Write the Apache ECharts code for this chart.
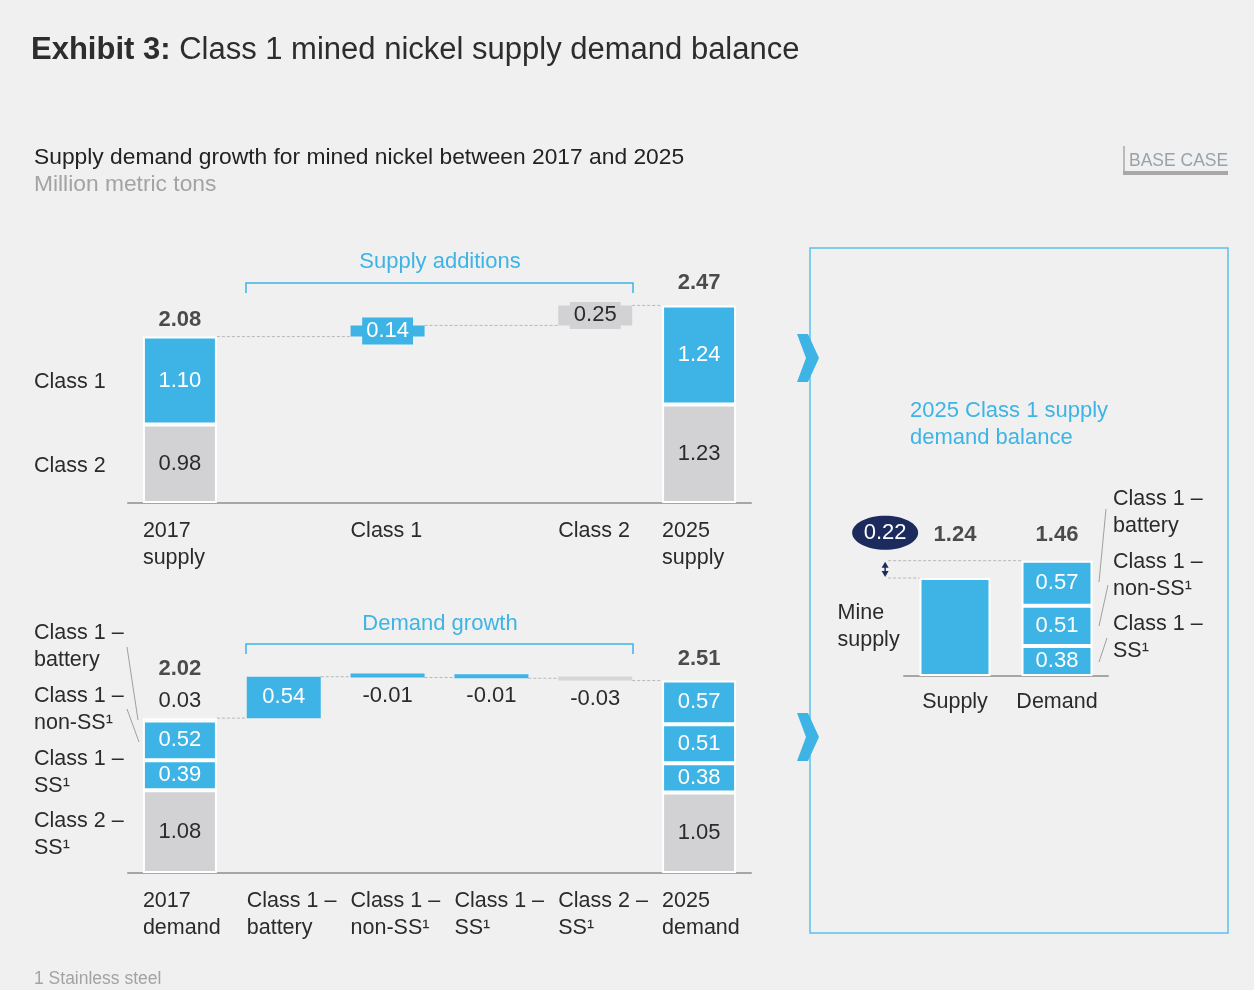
<!DOCTYPE html>
<html>
<head>
<meta charset="utf-8">
<script src="https://cdn.jsdelivr.net/npm/echarts@6/dist/echarts.min.js"></script>
<style>
html,body{margin:0;padding:0;background:#f0f0f0;}
#c{width:1254px;height:990px;}
</style>
</head>
<body>
<div id="c"></div>
<script>
// ---------- DATA ----------
const supplyCategories = ['2017\nsupply', '', 'Class 1', '', 'Class 2', '2025\nsupply'];
const supplyClass2 = [0.98, null, null, null, null, 1.23];
const supplyClass1 = [1.10, null, null, null, null, 1.24];
const supplyAdditions = [null, null, 0.14, null, 0.25, null];

const demandCategories = ['2017\ndemand', 'Class 1 –\nbattery', 'Class 1 –\nnon-SS¹', 'Class 1 –\nSS¹', 'Class 2 –\nSS¹', '2025\ndemand'];
const demandClass2SS = [1.08, null, null, null, null, 1.05];
const demandClass1SS = [0.39, null, null, null, null, 0.38];
const demandClass1NonSS = [0.52, null, null, null, null, 0.51];
const demandClass1Battery = [0.03, null, null, null, null, 0.57];
const demandChanges = [null, 0.54, -0.01, -0.01, -0.03, null];

const balanceCategories = ['Supply', 'Demand'];
const balanceSupply = [1.24, null];
const balanceClass1SS = [null, 0.38];
const balanceClass1NonSS = [null, 0.51];
const balanceClass1Battery = [null, 0.57];

// ---------- STYLE ----------
const BLUE = '#3db4e5', GREY = '#d2d2d4', DARK = '#2b2b2b', NAVY = '#1c2a5e', LIGHT = '#a3a3a3';
const FONT = '"Liberation Sans", Arial, sans-serif';
const fmt = v => (Math.round(v * 100) / 100).toFixed(2);
const r2 = v => Math.round(v * 100) / 100;

// ---------- DERIVED (waterfall) ----------
const supplyTotals = supplyCategories.map((c, i) => supplyClass1[i] != null ? r2(supplyClass1[i] + supplyClass2[i]) : null);
const supplyBase = supplyCategories.map(() => null);
const supplyConn = [];
(function () {
  let run = supplyTotals[0], prev = 0;
  supplyAdditions.forEach((a, i) => {
    if (a == null) return;
    supplyBase[i] = run; supplyConn.push([prev, i, run]);
    run = r2(run + a); prev = i;
  });
  supplyConn.push([prev, supplyCategories.length - 1, run]);
})();

const demandTotals = demandCategories.map((c, i) => demandClass2SS[i] != null ?
  r2(demandClass2SS[i] + demandClass1SS[i] + demandClass1NonSS[i] + demandClass1Battery[i]) : null);
const demandBase = demandCategories.map(() => null);
const demandDelta = demandCategories.map(() => null);
const demandConn = [];
(function () {
  let run = demandTotals[0], prev = 0;
  demandChanges.forEach((ch, i) => {
    if (ch == null) return;
    demandBase[i] = r2(Math.min(run, run + ch));
    demandDelta[i] = Math.abs(ch);
    demandConn.push([prev, i, run]);
    run = r2(run + ch); prev = i;
  });
  demandConn.push([prev, demandCategories.length - 1, run]);
})();

const balSupplyTotal = balanceSupply[0];
const balDemandTotal = r2(balanceClass1SS[1] + balanceClass1NonSS[1] + balanceClass1Battery[1]);
const balTotals = [balSupplyTotal, balDemandTotal];
const balLevel = Math.max(balSupplyTotal, balDemandTotal);

// ---------- HELPERS ----------
function catLabel(fs) {
  return {
    interval: 0, margin: 15,
    formatter: v => v ? v.split('\n').map(l => '{a|' + l + '}').join('\n') : '',
    rich: { a: { width: 74, align: 'left', fontSize: fs, lineHeight: 27, color: DARK, fontFamily: FONT } }
  };
}
function connector(xi, yi, data) {
  return {
    type: 'custom', xAxisIndex: xi, yAxisIndex: yi, z: 1, silent: true,
    data: data, encode: { x: [0, 1], y: 2 },
    renderItem: function (params, api) {
      const y = api.value(2);
      const p0 = api.coord([api.value(0), y]), p1 = api.coord([api.value(1), y]);
      const half = api.size([1, 0])[0] * 0.712 / 2;
      return { type: 'line', shape: { x1: p0[0] + half, y1: p0[1], x2: p1[0] - half, y2: p1[1] },
        style: { stroke: '#b8b8b8', lineWidth: 1, lineDash: [3, 2] } };
    }
  };
}
const segBorder = { borderColor: '#ffffff', borderWidth: 2 };
function valLabel(color) {
  return { show: true, position: 'inside', color: color, fontSize: 22, fontFamily: FONT, formatter: p => fmt(p.value) };
}
function totalItems(arr, dists) {
  return arr.map((v, i) => v == null ? null : {
    value: v, label: { distance: dists[i] }
  });
}

const textEl = (x, y, text, size, color, extra) => ({
  type: 'text', x: x, y: y, silent: true,
  style: Object.assign({ text: text, fill: color, font: size + 'px ' + FONT, lineHeight: 27,
    align: 'left', verticalAlign: 'top', textAlign: 'left', textVerticalAlign: 'top' }, extra || {})
});
const lineEl = (x1, y1, x2, y2, color, w) => ({
  type: 'line', silent: true, shape: { x1, y1, x2, y2 }, style: { stroke: color, lineWidth: w }
});

// ---------- OPTION ----------
const option = {
  backgroundColor: '#f0f0f0',
  animation: false,
  textStyle: { fontFamily: FONT },
  title: {
    left: 31, top: 35, padding: 0,
    text: '{b|Exhibit 3:}{n| Class 1 mined nickel supply demand balance}',
    textStyle: { fontWeight: 'normal', rich: {
      b: { fontSize: 31, fontWeight: 'bold', color: '#2d2d2d', fontFamily: FONT },
      n: { fontSize: 31, fontWeight: 'normal', color: '#2d2d2d', fontFamily: FONT }
    } }
  },
  grid: [
    { left: 128, top: 263, width: 623, height: 240 },
    { left: 128, top: 643, width: 623, height: 230 },
    { left: 904, top: 518, width: 204, height: 158 }
  ],
  xAxis: [
    { type: 'category', gridIndex: 0, data: supplyCategories, axisTick: { show: false },
      axisLine: { lineStyle: { color: '#a6a6a6', width: 2 } }, axisLabel: catLabel(21.5) },
    { type: 'category', gridIndex: 1, data: demandCategories, axisTick: { show: false },
      axisLine: { lineStyle: { color: '#a6a6a6', width: 2 } }, axisLabel: catLabel(21.5) },
    { type: 'category', gridIndex: 2, data: balanceCategories, axisTick: { show: false },
      axisLine: { lineStyle: { color: '#a6a6a6', width: 2 } },
      axisLabel: { interval: 0, margin: 15, fontSize: 21.5, color: DARK, fontFamily: FONT } }
  ],
  yAxis: [
    { type: 'value', gridIndex: 0, min: 0, max: 3, show: false },
    { type: 'value', gridIndex: 1, min: 0, max: 3, show: false },
    { type: 'value', gridIndex: 2, min: 0, max: 2, show: false }
  ],
  series: [
    // ---- supply waterfall ----
    connector(0, 0, supplyConn),
    { type: 'bar', xAxisIndex: 0, yAxisIndex: 0, stack: 'sup', barWidth: 74, data: supplyBase,
      itemStyle: { color: 'transparent' }, silent: true },
    { type: 'bar', xAxisIndex: 0, yAxisIndex: 0, stack: 'sup', barWidth: 74, data: supplyClass2,
      itemStyle: Object.assign({ color: GREY }, segBorder), label: valLabel(DARK) },
    { type: 'bar', xAxisIndex: 0, yAxisIndex: 0, stack: 'sup', barWidth: 74, data: supplyClass1,
      itemStyle: Object.assign({ color: BLUE }, segBorder), label: valLabel('#fff') },
    { type: 'bar', xAxisIndex: 0, yAxisIndex: 0, stack: 'sup', barWidth: 74,
      data: supplyAdditions.map((v, i) => v == null ? null : {
        value: v,
        itemStyle: { color: supplyCategories[i].indexOf('Class 2') === 0 ? GREY : BLUE },
        label: supplyCategories[i].indexOf('Class 2') === 0 ?
          { color: DARK, backgroundColor: GREY } : { color: '#fff', backgroundColor: BLUE }
      }),
      label: { show: true, position: 'inside', fontSize: 22, fontFamily: FONT, padding: [3, 4, 2, 4],
        formatter: p => fmt(p.value) } },
    { type: 'scatter', xAxisIndex: 0, yAxisIndex: 0, symbolSize: 0, z: 5,
      data: totalItems(supplyTotals, [6, 0, 0, 0, 0, 11]),
      label: { show: true, position: 'top', fontSize: 22, fontWeight: 'bold', color: '#222', fontFamily: FONT,
        formatter: p => fmt(p.value) } },

    // ---- demand waterfall ----
    connector(1, 1, demandConn),
    { type: 'bar', xAxisIndex: 1, yAxisIndex: 1, stack: 'dem', barWidth: 74, data: demandBase,
      itemStyle: { color: 'transparent' }, silent: true },
    { type: 'bar', xAxisIndex: 1, yAxisIndex: 1, stack: 'dem', barWidth: 74, data: demandClass2SS,
      itemStyle: Object.assign({ color: GREY }, segBorder), label: valLabel(DARK) },
    { type: 'bar', xAxisIndex: 1, yAxisIndex: 1, stack: 'dem', barWidth: 74, data: demandClass1SS,
      itemStyle: Object.assign({ color: BLUE }, segBorder), label: valLabel('#fff') },
    { type: 'bar', xAxisIndex: 1, yAxisIndex: 1, stack: 'dem', barWidth: 74, data: demandClass1NonSS,
      itemStyle: Object.assign({ color: BLUE }, segBorder), label: valLabel('#fff') },
    { type: 'bar', xAxisIndex: 1, yAxisIndex: 1, stack: 'dem', barWidth: 74,
      data: demandClass1Battery.map((v, i) => v == null ? null : {
        value: v,
        label: v < 0.1 ? { position: 'top', color: DARK, distance: 6 } : {}
      }),
      itemStyle: Object.assign({ color: BLUE }, segBorder), label: valLabel('#fff') },
    { type: 'bar', xAxisIndex: 1, yAxisIndex: 1, stack: 'dem', barWidth: 74, barMinHeight: 4,
      data: demandDelta.map((v, i) => v == null ? null : {
        value: v,
        itemStyle: { color: demandCategories[i].indexOf('Class 2') === 0 ? '#d6d6d8' : BLUE },
        label: demandChanges[i] > 0 ? { position: 'inside', color: '#fff' } :
          { position: 'bottom', color: DARK, distance: 7 }
      }),
      label: { show: true, fontSize: 22, fontFamily: FONT, formatter: p => fmt(demandChanges[p.dataIndex]) } },
    { type: 'scatter', xAxisIndex: 1, yAxisIndex: 1, symbolSize: 0, z: 5,
      data: totalItems(demandTotals, [38, 0, 0, 0, 0, 11]),
      label: { show: true, position: 'top', fontSize: 22, fontWeight: 'bold', color: '#222', fontFamily: FONT,
        formatter: p => fmt(p.value) } },

    // ---- 2025 balance ----
    { type: 'bar', xAxisIndex: 2, yAxisIndex: 2, stack: 'bal', barWidth: 71, data: balanceSupply,
      itemStyle: Object.assign({ color: BLUE }, segBorder),
      label: { show: true, position: 'left', distance: 16, formatter: '{a|Mine}\n{a|supply}',
        rich: { a: { width: 66, align: 'left', fontSize: 21.5, lineHeight: 27, color: DARK, fontFamily: FONT } } } },
    { type: 'bar', xAxisIndex: 2, yAxisIndex: 2, stack: 'bal', barWidth: 71, data: balanceClass1SS,
      itemStyle: Object.assign({ color: BLUE }, segBorder), label: valLabel('#fff') },
    { type: 'bar', xAxisIndex: 2, yAxisIndex: 2, stack: 'bal', barWidth: 71, data: balanceClass1NonSS,
      itemStyle: Object.assign({ color: BLUE }, segBorder), label: valLabel('#fff') },
    { type: 'bar', xAxisIndex: 2, yAxisIndex: 2, stack: 'bal', barWidth: 71, data: balanceClass1Battery,
      itemStyle: Object.assign({ color: BLUE }, segBorder), label: valLabel('#fff') },
    { type: 'scatter', xAxisIndex: 2, yAxisIndex: 2, symbolSize: 0, z: 5,
      data: balTotals.map(() => balLevel),
      label: { show: true, position: 'top', distance: 15, fontSize: 22, fontWeight: 'bold', color: '#222', fontFamily: FONT,
        formatter: p => fmt(balTotals[p.dataIndex]) } },
    { type: 'custom', xAxisIndex: 2, yAxisIndex: 2, z: 6, silent: true,
      data: [[0, balSupplyTotal, balDemandTotal]], encode: { x: 0, y: [1, 2] },
      renderItem: function (params, api) {
        const s = api.value(1), d = api.value(2);
        const slot = api.size([1, 0])[0];
        const pS = api.coord([0, s]), pD = api.coord([1, d]);
        const half = slot * 0.696 / 2;
        const ax = pS[0] - slot * 0.685;
        const yS = pS[1], yD = pD[1];
        const dash = { stroke: '#b8b8b8', lineWidth: 1, lineDash: [3, 2] };
        return { type: 'group', children: [
          { type: 'line', shape: { x1: ax + 3, y1: yS, x2: pS[0] - half, y2: yS }, style: dash },
          { type: 'line', shape: { x1: ax + 3, y1: yD, x2: pD[0] - half, y2: yD }, style: dash },
          { type: 'line', shape: { x1: ax, y1: yD + 4, x2: ax, y2: yS - 4 }, style: { stroke: NAVY, lineWidth: 1.5 } },
          { type: 'polygon', shape: { points: [[ax - 3.5, yD + 7], [ax + 3.5, yD + 7], [ax, yD + 1]] }, style: { fill: NAVY } },
          { type: 'polygon', shape: { points: [[ax - 3.5, yS - 7], [ax + 3.5, yS - 7], [ax, yS - 1]] }, style: { fill: NAVY } },
          { type: 'ellipse', shape: { cx: ax, cy: yD - 28, rx: 33, ry: 17 }, style: { fill: NAVY } },
          { type: 'text', style: { x: ax, y: yD - 28, text: fmt(d - s), fill: '#ffffff', font: '22px ' + FONT,
            align: 'center', verticalAlign: 'middle', textAlign: 'center', textVerticalAlign: 'middle' } }
        ] };
      } }
  ],
  graphic: [
    textEl(34, 144, 'Supply demand growth for mined nickel between 2017 and 2025', 22.8, '#222'),
    textEl(34, 171, 'Million metric tons', 22.8, LIGHT),
    textEl(1129, 148, 'BASE CASE', 17.5, '#98a2ad'),
    lineEl(1124, 146, 1124, 173, '#a8a8a8', 1.5),
    lineEl(1123, 173, 1228, 173, '#a8a8a8', 4),

    textEl(440, 248, 'Supply additions', 22, BLUE, { align: 'center', textAlign: 'center' }),
    { type: 'polyline', silent: true, shape: { points: [[246, 293], [246, 283], [633, 283], [633, 293]] },
      style: { stroke: BLUE, lineWidth: 1.5, fill: null } },
    textEl(440, 610, 'Demand growth', 22, BLUE, { align: 'center', textAlign: 'center' }),
    { type: 'polyline', silent: true, shape: { points: [[246, 654], [246, 644], [633, 644], [633, 654]] },
      style: { stroke: BLUE, lineWidth: 1.5, fill: null } },

    textEl(34, 369, 'Class 1', 21.5, DARK),
    textEl(34, 453, 'Class 2', 21.5, DARK),

    textEl(34, 620, 'Class 1 –\nbattery', 21.5, DARK),
    textEl(34, 683, 'Class 1 –\nnon-SS¹', 21.5, DARK),
    textEl(34, 746, 'Class 1 –\nSS¹', 21.5, DARK),
    textEl(34, 808, 'Class 2 –\nSS¹', 21.5, DARK),
    lineEl(127, 647, 138, 720, '#a0a0a0', 1),
    lineEl(127, 709, 139, 742, '#a0a0a0', 1),

    { type: 'rect', silent: true, shape: { x: 810, y: 248, width: 418, height: 685 },
      style: { stroke: '#5bc0ea', lineWidth: 1.5, fill: null } },
    { type: 'polygon', silent: true, shape: { points: [[797, 334], [808, 334], [819, 358], [808, 382], [797, 382], [806, 358]] },
      style: { fill: BLUE } },
    { type: 'polygon', silent: true, shape: { points: [[797, 713], [808, 713], [819, 737], [808, 761], [797, 761], [806, 737]] },
      style: { fill: BLUE } },
    textEl(910, 397, '2025 Class 1 supply\ndemand balance', 22, BLUE),

    textEl(1113, 486, 'Class 1 –\nbattery', 21.5, DARK),
    textEl(1113, 549, 'Class 1 –\nnon-SS¹', 21.5, DARK),
    textEl(1113, 611, 'Class 1 –\nSS¹', 21.5, DARK),
    lineEl(1106, 509, 1099, 582, '#a0a0a0', 1),
    lineEl(1108, 585, 1099, 626, '#a0a0a0', 1),
    lineEl(1107, 638, 1099, 662, '#a0a0a0', 1),

    textEl(34, 966, '1 Stainless steel', 17.5, LIGHT)
  ]
};

const chart = echarts.init(document.getElementById('c'));
chart.setOption(option);
</script>
</body>
</html>
